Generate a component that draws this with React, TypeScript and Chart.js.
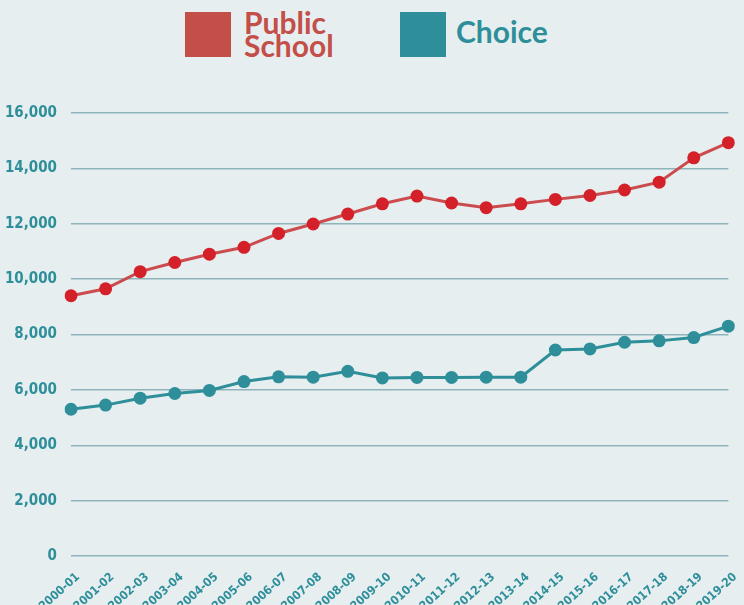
import React, { useEffect, useRef } from "react";
import { Chart, registerables } from "chart.js";

Chart.register(...registerables);

const categories = [
  "2000-01", "2001-02", "2002-03", "2003-04", "2004-05", "2005-06", "2006-07",
  "2007-08", "2008-09", "2009-10", "2010-11", "2011-12", "2012-13", "2013-14",
  "2014-15", "2015-16", "2016-17", "2017-18", "2018-19", "2019-20",
];

const publicSchool = [
  9400, 9650, 10270, 10600, 10900, 11150, 11650, 11990, 12350, 12720,
  13000, 12750, 12580, 12720, 12880, 13020, 13220, 13500, 14380, 14930,
];

const choice = [
  5300, 5450, 5700, 5870, 5980, 6300, 6470, 6460, 6670, 6430,
  6450, 6450, 6460, 6460, 7440, 7480, 7720, 7770, 7890, 8300,
];

const yTicks = [0, 2000, 4000, 6000, 8000, 10000, 12000, 14000, 16000];

const BG = "#e6eef0";
const RED_LEGEND = "#c44e48";
const RED_LINE = "#cc4b4f";
const RED_POINT = "#d42028";
const TEAL = "#2e8f9a";
const GRID = "#8db3bb";
const TICK_FONT = "'DejaVu Sans Condensed', 'Liberation Sans Narrow', sans-serif";

export default function App() {
  const ref = useRef<HTMLCanvasElement | null>(null);

  useEffect(() => {
    if (!ref.current) return;
    const chart = new Chart(ref.current, {
      type: "line",
      data: {
        labels: categories,
        datasets: [
          {
            label: "Public School",
            data: publicSchool,
            borderColor: RED_LINE,
            backgroundColor: RED_POINT,
            pointBackgroundColor: RED_POINT,
            pointBorderWidth: 0,
            pointRadius: 6.5,
            borderWidth: 3,
            tension: 0,
          },
          {
            label: "Choice",
            data: choice,
            borderColor: TEAL,
            backgroundColor: TEAL,
            pointBackgroundColor: TEAL,
            pointBorderWidth: 0,
            pointRadius: 6.5,
            borderWidth: 3,
            tension: 0,
          },
        ],
      },
      options: {
        animation: false,
        responsive: true,
        maintainAspectRatio: false,
        layout: { padding: { top: 113, right: 15, left: 0, bottom: 0 } },
        plugins: {
          legend: { display: false },
          tooltip: { enabled: false },
        },
        scales: {
          x: {
            offset: false,
            grid: { display: false },
            border: { display: false },
            ticks: {
              color: TEAL,
              font: { family: TICK_FONT, weight: "bold", size: 12 },
              minRotation: 42,
              maxRotation: 42,
              autoSkip: false,
              padding: 6,
              labelOffset: 7,
            },
            afterFit: (scale: any) => {
              scale.height = 49;
            },
          },
          y: {
            min: 0,
            max: 16000,
            afterBuildTicks: (scale: any) => {
              scale.ticks = yTicks.map((v) => ({ value: v }));
            },
            grid: {
              color: GRID,
              lineWidth: 1.5,
              drawTicks: false,
            },
            border: { display: false },
            ticks: {
              color: TEAL,
              padding: 14,
              font: { family: TICK_FONT, weight: "bold", size: 15 },
              callback: (v: any) => Number(v).toLocaleString("en-US"),
            },
            afterFit: (scale: any) => {
              scale.width = 71;
            },
          },
        },
      },
    });
    return () => chart.destroy();
  }, []);

  const legendText: React.CSSProperties = {
    position: "absolute",
    fontFamily: "Lato, 'Open Sans', sans-serif",
    fontWeight: 700,
    fontSize: 30,
    lineHeight: "23px",
    whiteSpace: "nowrap",
  };

  return (
    <div
      style={{
        position: "absolute",
        left: 0,
        top: 0,
        width: 744,
        height: 605,
        background: BG,
        overflow: "hidden",
      }}
    >
      <div style={{ position: "absolute", left: 185, top: 12, width: 46, height: 45, background: RED_LEGEND }} />
      <div style={{ ...legendText, left: 244, top: 11, color: RED_LEGEND }}>
        Public
        <br />
        School
      </div>
      <div style={{ position: "absolute", left: 400, top: 12, width: 46, height: 45, background: TEAL }} />
      <div style={{ ...legendText, left: 456, top: 20, color: TEAL }}>Choice</div>
      <div style={{ position: "absolute", left: 0, top: 0, width: 744, height: 605 }}>
        <canvas ref={ref} />
      </div>
    </div>
  );
}
